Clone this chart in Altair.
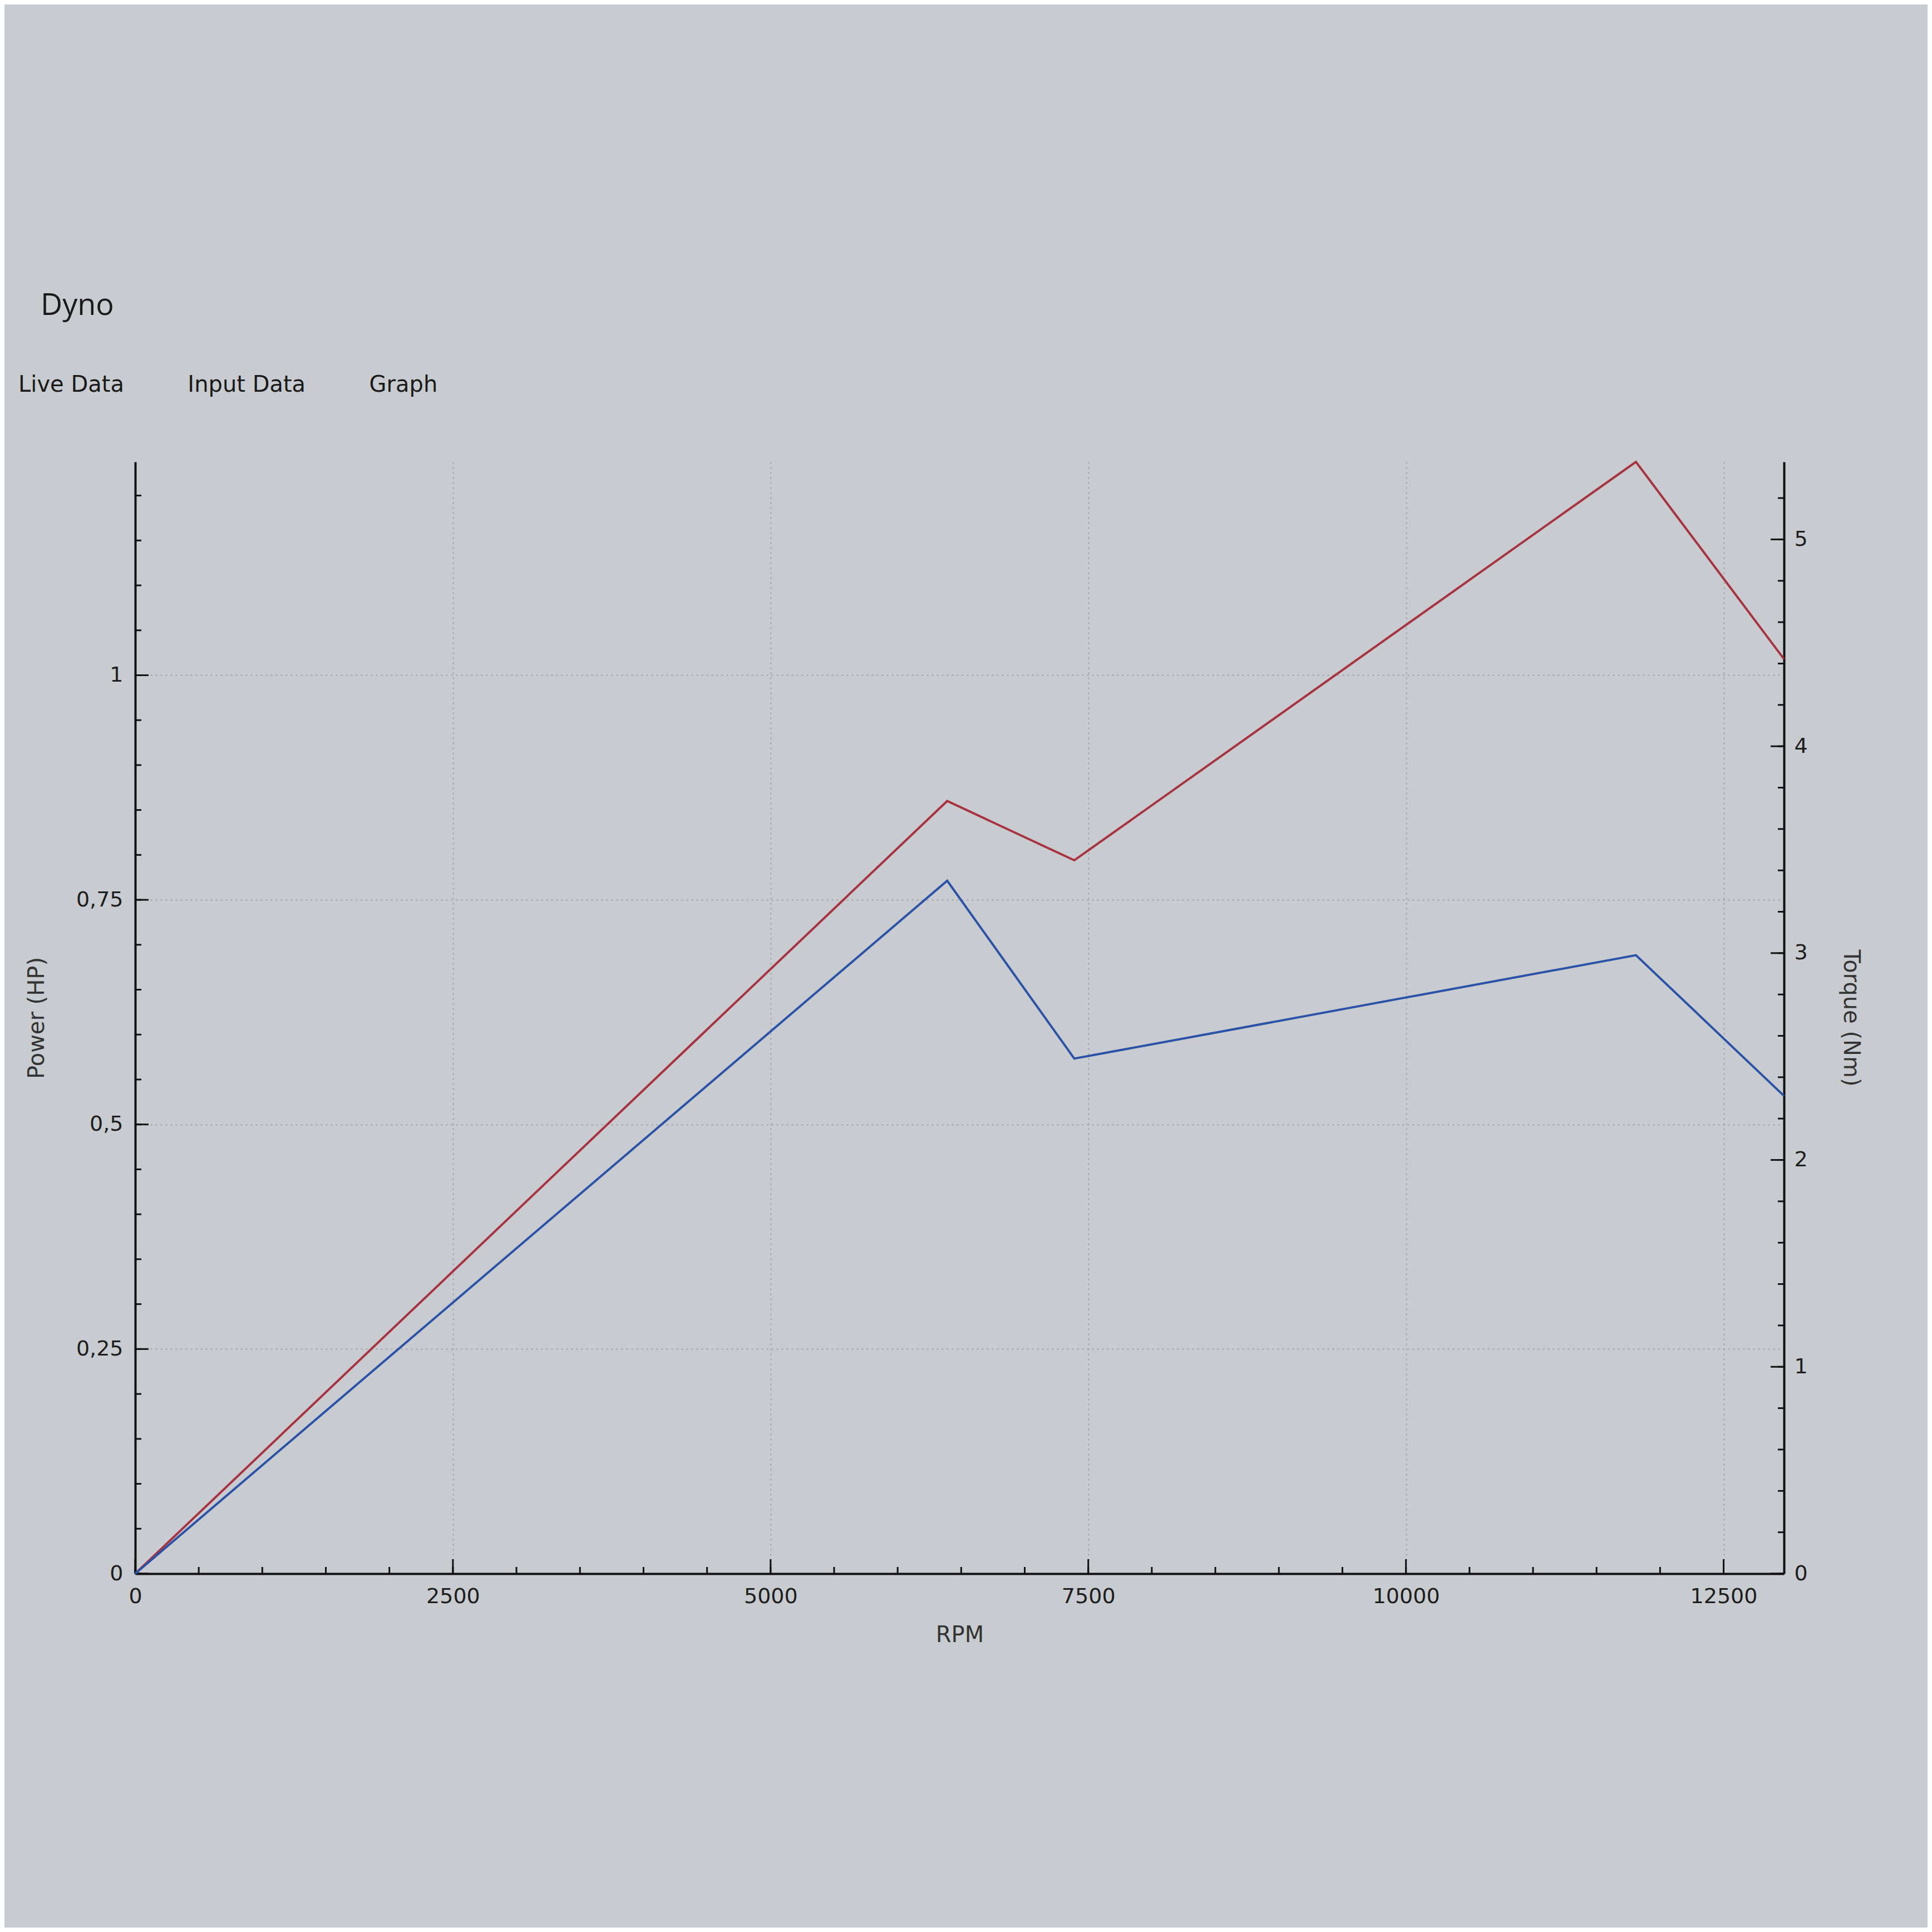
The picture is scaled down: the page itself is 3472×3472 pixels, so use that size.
import altair as alt
import pandas as pd

# ---- data ----
rpm = [0, 6390, 7390, 11810, 12975]
power_hp = [0, 0.860, 0.794, 1.2375, 1.018]
torque_nm = [0, 3.35, 2.49, 2.99, 2.31]

x_major = [0, 2500, 5000, 7500, 10000, 12500]
x_minor = [i * 500 for i in range(26)]
p_major = [0, 0.25, 0.5, 0.75, 1.0]
p_minor = [round(i * 0.05, 2) for i in range(25)]
t_major = [0, 1, 2, 3, 4, 5]
t_minor = [round(i * 0.2, 1) for i in range(27)]

X_MAX = 12975
P_MAX = 1.2375
T_MAX = 5.375

W, H = 2963, 1998
BG = "#c8cbcf"
RED = "#a83240"
BLUE = "#2a52a8"
FONT = "DejaVu Sans"

xs = alt.Scale(domain=[0, X_MAX], nice=False, zero=True)
ps = alt.Scale(domain=[0, P_MAX], nice=False)
ts = alt.Scale(domain=[0, T_MAX], nice=False)

df_p = pd.DataFrame({"rpm": rpm, "p": power_hp})
df_t = pd.DataFrame({"rpm": rpm, "t": torque_nm})

x_axis = alt.Axis(
    orient="bottom", values=x_major, format="d", title="RPM", grid=True,
    ticks=False, tickSize=0, labelPadding=22, labelFlush=False, titleY=110,
    titleBaseline="middle",
)
p_axis = alt.Axis(
    orient="left", values=p_major, grid=True, ticks=False, tickSize=0,
    labelExpr="replace(toString(datum.value), '.', ',')",
    labelPadding=22, title="Power (HP)", titleX=-177, titleY=H / 2,
    titleAngle=270, titleAlign="center", titleBaseline="middle",
)
t_axis = alt.Axis(
    orient="right", values=t_major, grid=False, ticks=False, tickSize=0,
    labelPadding=18, title="Torque (Nm)", titleX=119, titleY=H / 2,
    titleAngle=90, titleAlign="center", titleBaseline="middle",
)


def X(field):
    return alt.X(field, type="quantitative", scale=xs, axis=x_axis)


def YP(field):
    return alt.Y(field, type="quantitative", scale=ps, axis=p_axis)


def YT(field):
    return alt.Y(field, type="quantitative", scale=ts, axis=t_axis)


tick = dict(color="#111", strokeWidth=3)

power_line = alt.Chart(df_p).mark_line(color=RED, strokeWidth=4).encode(
    x=X("rpm"), y=YP("p")
)
p_minor_ticks = alt.Chart(pd.DataFrame({"p": p_minor})).mark_rule(**tick).encode(
    y=YP("p"), x=alt.value(0), x2=alt.value(11)
)
p_major_ticks = alt.Chart(pd.DataFrame({"p": p_major})).mark_rule(**tick).encode(
    y=YP("p"), x=alt.value(0), x2=alt.value(24)
)
x_minor_ticks = alt.Chart(pd.DataFrame({"rpm": x_minor})).mark_rule(**tick).encode(
    x=X("rpm"), y=alt.value(H), y2=alt.value(H - 12)
)
x_major_ticks = alt.Chart(pd.DataFrame({"rpm": x_major})).mark_rule(**tick).encode(
    x=X("rpm"), y=alt.value(H), y2=alt.value(H - 26)
)

torque_line = alt.Chart(df_t).mark_line(color=BLUE, strokeWidth=4).encode(
    x=X("rpm"), y=YT("t")
)
t_minor_ticks = alt.Chart(pd.DataFrame({"t": t_minor})).mark_rule(**tick).encode(
    y=YT("t"), x=alt.value(W - 11), x2=alt.value(W)
)
t_major_ticks = alt.Chart(pd.DataFrame({"t": t_major})).mark_rule(**tick).encode(
    y=YT("t"), x=alt.value(W - 24), x2=alt.value(W)
)

power_group = alt.layer(power_line, p_minor_ticks, p_major_ticks,
                        x_minor_ticks, x_major_ticks)
torque_group = alt.layer(torque_line, t_minor_ticks, t_major_ticks)

sp = "\u00a0"
chart = (
    alt.layer(power_group, torque_group)
    .resolve_scale(y="independent")
    .properties(
        width=W,
        height=H,
        autosize=alt.AutoSizeParams(type="none"),
        padding={"left": 235, "top": 822, "right": 258, "bottom": 636},
        background=BG,
        title=alt.TitleParams(
            text="\u2800Dyno",
            subtitle="Live Data" + sp * 9 + "Input Data" + sp * 9 + "Graph",
            anchor="start", frame="group", dx=-210, offset=110,
            font="Open Sans", fontSize=54, fontWeight="normal", color="#1a1a1a",
            subtitleFont=FONT, subtitleFontSize=40, subtitleColor="#1a1a1a",
            subtitlePadding=95,
        ),
    )
    .configure_view(strokeWidth=0)
    .configure_axis(
        domainColor="#111", domainWidth=4,
        gridColor="#9ea1a5", gridWidth=2, gridDash=[3, 6],
        labelFont=FONT, labelFontSize=38, labelColor="#1e1e1e",
        titleFont=FONT, titleFontSize=40, titleColor="#333",
        titleFontWeight="normal",
    )
)

chart.save("out.html", embed_options={"renderer": "svg", "actions": False})
